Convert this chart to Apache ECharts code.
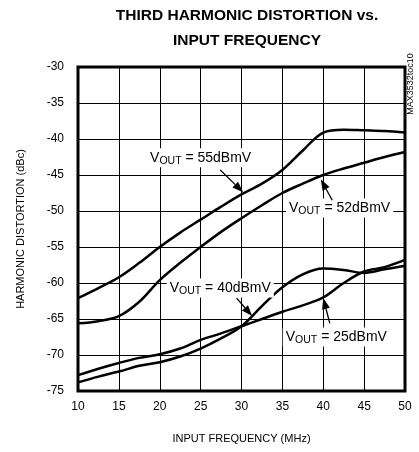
<!DOCTYPE html>
<html>
<head>
<meta charset="utf-8">
<script src="https://cdn.jsdelivr.net/npm/echarts@6/dist/echarts.min.js"></script>
<style>
  html, body { margin: 0; padding: 0; background: #fff; }
  #main { width: 419px; height: 452px; }
</style>
</head>
<body>
<div id="main"></div>
<script>
// input frequency, MHz
const freq = [10, 12.5, 15, 17.5, 20, 22.5, 25, 27.5, 30, 32.5, 35, 37.5, 40, 42.5, 45, 47.5, 50];
// third harmonic distortion, dBc
const hd55 = [-62.1, -60.7, -59.2, -57.2, -55.0, -53.0, -51.2, -49.4, -47.7, -46.2, -44.3, -41.6, -39.1, -38.7, -38.8, -38.9, -39.1];
const hd52 = [-65.6, -65.3, -64.6, -62.6, -59.6, -57.2, -55.0, -52.9, -51.0, -49.2, -47.5, -46.2, -45.0, -44.1, -43.3, -42.5, -41.8];
const hd40 = [-73.8, -73.0, -72.3, -71.5, -71.0, -70.2, -69.1, -67.7, -66.0, -63.2, -60.6, -58.8, -58.0, -58.2, -58.6, -58.1, -57.6];
const hd25 = [-72.8, -71.9, -71.1, -70.4, -69.9, -69.1, -67.9, -67.0, -66.0, -65.0, -64.0, -63.1, -62.0, -60.0, -58.4, -57.8, -56.8];

// labels: [vout, text centre, arrow tail, arrow tip] in data coordinates
const notes = [
  ['55', [25.0, -42.6], [27.4, -44.3], [30.2, -47.4]],
  ['52', [42.0, -49.6], [41.1, -48.5], [39.7, -45.6]],
  ['40', [27.4, -60.7], [29.4, -62.1], [31.3, -64.6]],
  ['25', [41.6, -67.5], [40.8, -65.6], [40.0, -62.1]]
];

const FONT = '"Liberation Sans", Arial, sans-serif';

function pairs(ys) {
  return freq.map((f, i) => [f, ys[i]]);
}

function curve(name, ys) {
  return {
    name: name,
    type: 'line',
    data: pairs(ys),
    smooth: 0.35,
    showSymbol: false,
    lineStyle: { color: '#000', width: 2.5 },
    z: 3
  };
}

let chart = echarts.init(document.getElementById('main'));
let option = {
  animation: false,
  backgroundColor: '#fff',
  title: {
    text: 'THIRD HARMONIC DISTORTION vs.\nINPUT FREQUENCY',
    left: 242,
    textAlign: 'center',
    top: -2,
    textStyle: { fontFamily: FONT, fontSize: 15.5, fontWeight: 'bold', color: '#000', lineHeight: 25 }
  },
  grid: {
    left: 78, right: 14, top: 67, bottom: 61,
    show: true, borderColor: '#000', borderWidth: 3
  },
  xAxis: {
    type: 'value', min: 10, max: 50, interval: 5,
    name: 'INPUT FREQUENCY (MHz)', nameLocation: 'middle', nameGap: 42,
    nameTextStyle: { fontFamily: FONT, fontSize: 11, color: '#000' },
    axisLine: { show: false }, axisTick: { show: false },
    axisLabel: { fontFamily: FONT, fontSize: 12, color: '#000', margin: 10 },
    splitLine: { lineStyle: { color: '#000', width: 1 } }
  },
  yAxis: {
    type: 'value', min: -75, max: -30, interval: 5,
    name: 'HARMONIC DISTORTION (dBc)', nameLocation: 'middle', nameGap: 52,
    nameTextStyle: { fontFamily: FONT, fontSize: 11, color: '#000' },
    axisLine: { show: false }, axisTick: { show: false },
    axisLabel: { fontFamily: FONT, fontSize: 12, color: '#000', margin: 14 },
    splitLine: { lineStyle: { color: '#000', width: 1 } }
  },
  series: [
    curve('55dBmV', hd55),
    curve('52dBmV', hd52),
    curve('40dBmV', hd40),
    curve('25dBmV', hd25)
  ]
};
chart.setOption(option);

// annotations placed from data coordinates
let g = [];
notes.forEach(n => {
  const c = chart.convertToPixel({ gridIndex: 0 }, n[1]);
  const a = chart.convertToPixel({ gridIndex: 0 }, n[2]);
  const b = chart.convertToPixel({ gridIndex: 0 }, n[3]);
  g.push({
    type: 'text', x: c[0], y: c[1], z: 10,
    style: {
      text: '{v|V}{s|OUT}{v| = ' + n[0] + 'dBmV}',
      align: 'center', verticalAlign: 'middle',
      backgroundColor: '#fff', padding: [1, 3, 1, 3],
      rich: {
        v: { fontFamily: FONT, fontSize: 14, fill: '#000', lineHeight: 17 },
        s: { fontFamily: FONT, fontSize: 10.5, fill: '#000', lineHeight: 17, padding: [6, 0, 0, 0] }
      }
    }
  });
  const dx = b[0] - a[0], dy = b[1] - a[1];
  const len = Math.sqrt(dx * dx + dy * dy);
  const ux = dx / len, uy = dy / len;
  const hl = 11, hw = 4;
  const bx = b[0] - ux * hl, by = b[1] - uy * hl;
  g.push({
    type: 'line', z: 11,
    shape: { x1: a[0], y1: a[1], x2: bx, y2: by },
    style: { stroke: '#000', lineWidth: 1.3 }
  });
  g.push({
    type: 'polygon', z: 11,
    shape: { points: [[b[0], b[1]], [bx - uy * hw, by + ux * hw], [bx + uy * hw, by - ux * hw]] },
    style: { fill: '#000' }
  });
});
g.push({
  type: 'text', x: 411, y: 84, rotation: Math.PI / 2, z: 10,
  style: { text: 'MAX3532toc10', fontFamily: FONT, fontSize: 9, fill: '#000', align: 'center', verticalAlign: 'middle' }
});
chart.setOption({ graphic: g });
</script>
</body>
</html>
